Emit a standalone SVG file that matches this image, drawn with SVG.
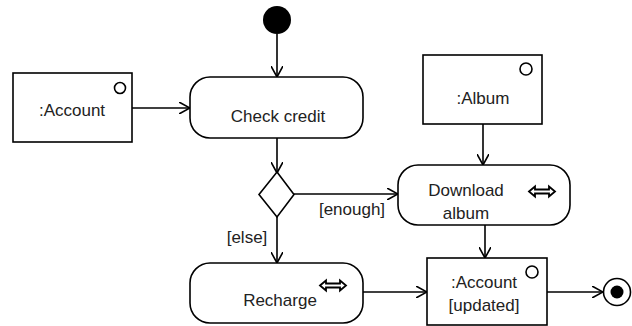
<svg xmlns="http://www.w3.org/2000/svg" width="632" height="326" viewBox="0 0 632 326">
<defs>
<style>
.box{fill:#fff;stroke:#000;stroke-width:1.6}
.act{fill:#fff;stroke:#000;stroke-width:1.6}
.pin{fill:#fff;stroke:#000;stroke-width:1.6}
.edge{fill:none;stroke:#000;stroke-width:1.6}
.t{font-family:"Liberation Sans",Arial,sans-serif;font-size:17px;fill:#222;text-anchor:middle}
.icon{fill:#fff;stroke:#000;stroke-width:1.8;stroke-linejoin:miter}
</style>
<marker id="open" viewBox="0 0 12 12" refX="11" refY="6" markerWidth="12" markerHeight="12" markerUnits="userSpaceOnUse" orient="auto">
<path d="M0,0 L11,6 L0,12" fill="none" stroke="#000" stroke-width="1.6"/>
</marker>
</defs>
<rect width="632" height="326" fill="#fff"/>
<g id="connectors">
<line class="edge" x1="277" y1="34" x2="277" y2="77" marker-end="url(#open)"/>
<line class="edge" x1="132" y1="108" x2="190" y2="108" marker-end="url(#open)"/>
<line class="edge" x1="277" y1="138" x2="277" y2="173" marker-end="url(#open)"/>
<line class="edge" x1="294" y1="194" x2="398" y2="194" marker-end="url(#open)"/>
<line class="edge" x1="277" y1="217" x2="277" y2="263" marker-end="url(#open)"/>
<line class="edge" x1="483" y1="124" x2="483" y2="165" marker-end="url(#open)"/>
<line class="edge" x1="485" y1="225" x2="485" y2="258" marker-end="url(#open)"/>
<line class="edge" x1="363" y1="292" x2="427" y2="292" marker-end="url(#open)"/>
<line class="edge" x1="547" y1="292" x2="603" y2="292" marker-end="url(#open)"/>
<text class="t" x="352" y="215">[enough]</text>
<text class="t" x="247" y="243">[else]</text>
</g>
<g id="initial">
<circle cx="277" cy="20" r="14" fill="#000"/>
</g>
<g id="account">
<rect class="box" x="13" y="73" width="119" height="69"/>
<circle class="pin" cx="120" cy="88" r="5.5"/>
<text class="t" x="72" y="116">:Account</text>
</g>
<g id="check-credit">
<rect class="act" x="190" y="77" width="173" height="61" rx="20" ry="20"/>
<text class="t" x="278" y="122">Check credit</text>
</g>
<g id="album">
<rect class="box" x="423" y="55" width="119" height="69"/>
<circle class="pin" cx="526" cy="69" r="6"/>
<text class="t" x="483" y="104">:Album</text>
</g>
<g id="decision">
<polygon class="box" points="277,172 294,194.5 277,217 259,194.5"/>
</g>
<g id="download-album">
<rect class="act" x="398" y="165" width="172" height="60" rx="20" ry="20"/>
<text class="t" x="466" y="196">Download</text>
<text class="t" x="466" y="219">album</text>
<polygon class="icon" points="529,191.5 535,186.5 535,189.5 549,189.5 549,186.5 555,191.5 549,196.5 549,193.5 535,193.5 535,196.5"/>
</g>
<g id="recharge">
<rect class="act" x="190" y="263" width="173" height="60" rx="20" ry="20"/>
<text class="t" x="280" y="306">Recharge</text>
<polygon class="icon" points="320,285.5 326,280.5 326,283.5 340,283.5 340,280.5 346,285.5 340,290.5 340,287.5 326,287.5 326,290.5"/>
</g>
<g id="account-updated">
<rect class="box" x="427" y="258" width="120" height="67"/>
<circle class="pin" cx="532" cy="272" r="6"/>
<text class="t" x="484" y="288">:Account</text>
<text class="t" x="484" y="311">[updated]</text>
</g>
<g id="final">
<circle cx="617" cy="292" r="13.5" fill="#fff" stroke="#000" stroke-width="1.6"/>
<circle cx="617" cy="292" r="6.5" fill="#000"/>
</g>
</svg>
